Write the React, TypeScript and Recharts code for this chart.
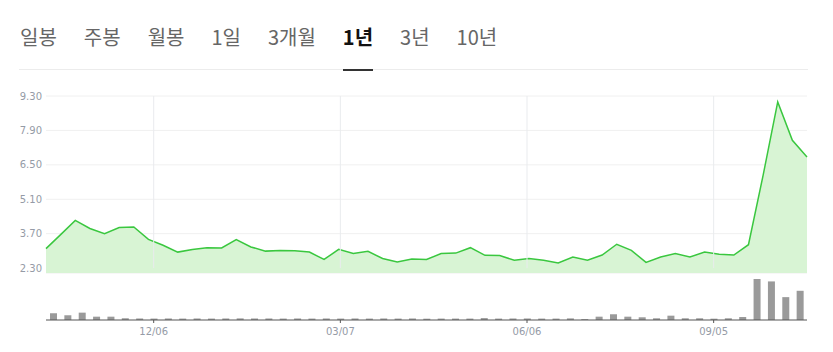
import React from "react";
import {
    AreaChart,
    Area,
    BarChart,
    Bar,
    XAxis,
    YAxis,
    CartesianGrid,
    ReferenceLine
} from "recharts";

const tabs = ["일봉", "주봉", "월봉", "1일", "3개월", "1년", "3년", "10년"];
const activeTab = "1년";

// weekly, 2021/10/18 ~ 2022/10/17
const dates = [
    "10/18", "10/25", "11/01", "11/08", "11/15", "11/22", "11/29", "12/06", "12/13", "12/20",
    "12/27", "01/03", "01/10", "01/17", "01/24", "01/31", "02/07", "02/14", "02/21", "02/28",
    "03/07", "03/14", "03/21", "03/28", "04/04", "04/11", "04/18", "04/25", "05/02", "05/09",
    "05/16", "05/23", "05/30", "06/06", "06/13", "06/20", "06/27", "07/04", "07/11", "07/18",
    "07/25", "08/01", "08/08", "08/15", "08/22", "08/29", "09/05", "09/12", "09/19", "09/26",
    "10/03", "10/10", "10/17"
];

const prices = [
    3.09, 3.66, 4.24, 3.91, 3.70, 3.95, 3.97, 3.47, 3.23, 2.95,
    3.06, 3.13, 3.12, 3.46, 3.16, 2.99, 3.02, 3.01, 2.95, 2.65,
    3.06, 2.89, 2.98, 2.69, 2.55, 2.67, 2.65, 2.89, 2.91, 3.13,
    2.82, 2.81, 2.62, 2.69, 2.62, 2.51, 2.75, 2.62, 2.83, 3.27,
    3.02, 2.53, 2.75, 2.89, 2.75, 2.95, 2.86, 2.83, 3.25, 6.07,
    9.06, 7.50, 6.82
];

const volumes = [
    670, 470, 730, 330, 330, 170, 150, 140, 150, 140,
    150, 140, 150, 160, 140, 150, 140, 150, 140, 150,
    140, 150, 140, 150, 140, 150, 130, 140, 140, 140,
    190, 140, 140, 150, 140, 140, 160, 90, 330, 570,
    330, 270, 170, 430, 170, 170, 130, 170, 300, 4070,
    3830, 2270, 2900
];

const priceTicks = [2.3, 3.7, 5.1, 6.5, 7.9, 9.3];
const dateTicks = ["12/06", "03/07", "06/06", "09/05"];

const priceData = dates.map((d, i) => ({ idx: i, date: d, price: prices[i] }));
const volumeData = dates.map((d, i) => ({ date: d, volume: volumes[i] }));

// volume bars sit in the middle of each band, the price line on a point scale
const gridX = dateTicks.map((t) => {
    const k = dates.indexOf(t);
    return ((k + 0.5) * (dates.length - 1)) / dates.length;
});

const tickStyle = { fontSize: 10, fill: "#959ba6", fontFamily: "DejaVu Sans" };

const Tabs = () => {
    return (
        <div
            style={{
                position: "absolute",
                left: 20,
                top: 24,
                display: "flex",
                gap: 27,
                fontFamily: "'Noto Sans CJK KR', sans-serif",
                fontSize: 20,
                lineHeight: "26px",
                whiteSpace: "nowrap"
            }}
        >
            {tabs.map((t) => (
                <span
                    key={t}
                    style={{
                        position: "relative",
                        color: t === activeTab ? "#111" : "#666",
                        fontWeight: t === activeTab ? 700 : 400
                    }}
                >
                    {t}
                    {t === activeTab && (
                        <div
                            style={{
                                position: "absolute",
                                left: 0,
                                right: 0,
                                top: 45,
                                height: 2,
                                background: "#333"
                            }}
                        />
                    )}
                </span>
            ))}
        </div>
    );
};

const App = () => {
    return (
        <div
            style={{
                position: "absolute",
                left: 0,
                top: 0,
                width: 833,
                height: 352,
                background: "#fff",
                overflow: "hidden"
            }}
        >
            <div
                style={{
                    position: "absolute",
                    left: 19,
                    top: 69,
                    width: 789,
                    height: 1,
                    background: "#ececec"
                }}
            />
            <Tabs />
            <div style={{ position: "absolute", left: 0, top: 80 }}>
                <AreaChart
                    width={833}
                    height={200}
                    data={priceData}
                    margin={{ top: 16, right: 26, bottom: 7, left: 0 }}
                >
                    <CartesianGrid vertical={false} stroke="#f0f0f0" />
                    <XAxis
                        dataKey="idx"
                        type="number"
                        domain={[0, dates.length - 1]}
                        height={0}
                        tick={false}
                        tickLine={false}
                        axisLine={{ stroke: "#222", strokeWidth: 1.5 }}
                    />
                    <YAxis
                        domain={[2.1, 9.3]}
                        ticks={priceTicks}
                        tickFormatter={(v: number) => v.toFixed(2)}
                        width={46}
                        axisLine={false}
                        tickLine={false}
                        tickSize={0}
                        tickMargin={4}
                        tick={tickStyle}
                    />
                    <Area
                        type="linear"
                        dataKey="price"
                        stroke="#3ac73f"
                        strokeWidth={1.5}
                        fill="#d8f4d4"
                        fillOpacity={1}
                        dot={false}
                        activeDot={false}
                        isAnimationActive={false}
                    />
                    {gridX.map((x) => (
                        <ReferenceLine
                            key={x}
                            segment={[
                                { x: x, y: priceTicks[0] },
                                { x: x, y: priceTicks[priceTicks.length - 1] }
                            ]}
                            stroke="#e9ebee"
                        />
                    ))}
                </AreaChart>
            </div>
            <div style={{ position: "absolute", left: 0, top: 270 }}>
                <BarChart
                    width={833}
                    height={80}
                    data={volumeData}
                    margin={{ top: 9, right: 26, bottom: 0, left: 46 }}
                >
                    <XAxis
                        dataKey="date"
                        ticks={dateTicks}
                        interval={0}
                        height={30}
                        tickSize={3}
                        tickMargin={5}
                        axisLine={{ stroke: "#555" }}
                        tickLine={{ stroke: "#555" }}
                        tick={tickStyle}
                    />
                    <YAxis hide domain={[0, "dataMax"]} />
                    <Bar
                        dataKey="volume"
                        fill="#9a9a9a"
                        barSize={7}
                        isAnimationActive={false}
                    />
                </BarChart>
            </div>
        </div>
    );
};

export default App;
